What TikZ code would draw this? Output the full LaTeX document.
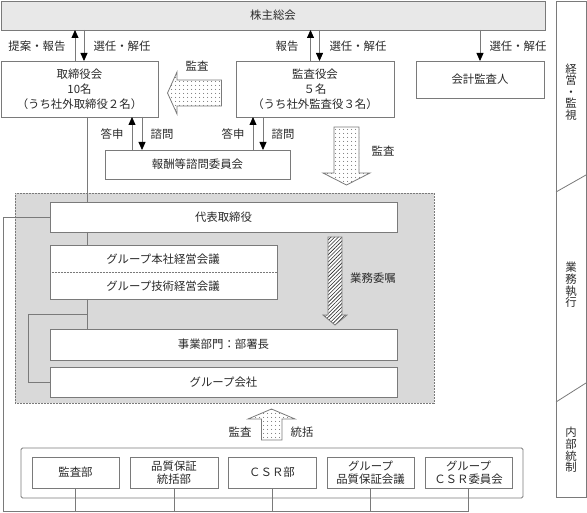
\documentclass[tikz,border=0pt]{standalone}
\usepackage{fontspec}
\setmainfont{Noto Sans CJK JP}
\usetikzlibrary{arrows.meta,patterns.meta}
\definecolor{lg}{HTML}{7A7A7A}
\definecolor{tc}{HTML}{2A2A2A}
\definecolor{shfill}{HTML}{E8E8E8}
\definecolor{areafill}{HTML}{D9D9D9}
\newcommand\fsz{\fontsize{11.4pt}{15pt}\selectfont}
\newcommand\fszb{\fontsize{11.4pt}{12.5pt}\selectfont}
\newcommand\fszv{\fontsize{11.4pt}{11.6pt}\selectfont}
\begin{document}
\begin{tikzpicture}[x=1pt,y=-1pt,
  box/.style={draw=lg, line width=0.8pt, fill=white, inner sep=0pt, outer sep=0pt,
    anchor=north west, align=center, text=tc, font=\fsz},
  lbl/.style={text=tc, font=\fsz, inner sep=0pt},
  conn/.style={draw=lg, line width=0.8pt},
  arr/.style={conn, -{Triangle[width=7pt,length=8pt,color=black]}},
  dotsarrow/.style={draw=lg, line width=0.8pt, preaction={fill=white},
    pattern={Dots[distance=4pt,radius=0.5pt]}, pattern color=tc},
  hatcharrow/.style={draw=lg, line width=0.8pt, preaction={fill=white},
    pattern={Lines[angle=45,distance=2.6pt,line width=0.6pt]}, pattern color=tc},
]
\useasboundingbox (0,0) rectangle (587,513);

% shareholders
\node[box, fill=shfill, minimum width=544pt, minimum height=29pt] (sh) at (1,1) {株主総会};

% top row boxes
\node[box, minimum width=157pt, minimum height=56pt] (bod) at (1,61)
  {取締役会\\10名\\（うち社外取締役２名）};
\node[box, minimum width=158pt, minimum height=56pt] (kan) at (236,61)
  {監査役会\\５名\\（うち社外監査役３名）};
\node[box, minimum width=128pt, minimum height=37pt] (acc) at (416,61) {会計監査人};
\node[box, minimum width=185pt, minimum height=29pt] (comp) at (105,150) {報酬等諮問委員会};

% arrows from shareholders
\draw[arr] ([xshift=-4.5pt]bod.north) -- ([xshift=-4.5pt]bod.north |- sh.south);
\draw[arr] ([xshift=4.5pt]bod.north |- sh.south) -- ([xshift=4.5pt]bod.north);
\draw[arr] ([xshift=-4.5pt]kan.north) -- ([xshift=-4.5pt]kan.north |- sh.south);
\draw[arr] ([xshift=4.5pt]kan.north |- sh.south) -- ([xshift=4.5pt]kan.north);
\draw[arr] (acc.north |- sh.south) -- (acc.north);

\node[lbl] (l1) at (37,46) {提案・報告};
\node[lbl] (l2) at (122,46) {選任・解任};
\node[lbl] (l3) at (287,46) {報告};
\node[lbl] (l4) at (358,46) {選任・解任};
\node[lbl] (l5) at (518,46) {選任・解任};

% arrows to compensation committee
\draw[arr] (132,0 |- comp.north) -- (132,0 |- bod.south);
\draw[arr] (142,0 |- bod.south) -- (142,0 |- comp.north);
\draw[arr] (253,0 |- comp.north) -- (253,0 |- kan.south);
\draw[arr] (263,0 |- kan.south) -- (263,0 |- comp.north);
\node[lbl] (l6) at (112,134) {答申};
\node[lbl] (l7) at (162,134) {諮問};
\node[lbl] (l8) at (233,134) {答申};
\node[lbl] (l9) at (283,134) {諮問};

% audit arrow (left)
\draw[dotsarrow] (221.5,80) -- (221.5,106) -- (177,106) -- (177,114) -- (167.5,93)
  -- (177,72) -- (177,80) -- cycle;
\node[lbl] (l10) at (197,66) {監査};

% audit arrow (down)
\draw[dotsarrow] (334,127) -- (359,127) -- (359,173) -- (370,173) -- (346.5,185)
  -- (323,173) -- (334,173) -- cycle;
\node[lbl] (l11) at (383,151) {監査};

% execution area
\node[draw=lg, line width=0.6pt, dash pattern=on 0.6pt off 0.9pt, fill=areafill,
  inner sep=0pt, outer sep=0pt, anchor=north west, minimum width=419pt,
  minimum height=210pt] (area) at (15,193) {};

\node[box, minimum width=347pt, minimum height=30pt] (rep) at (50,202) {代表取締役};
\node[box, minimum width=227pt, minimum height=54pt] (grp) at (50,245) {};
\node[lbl] (g1) at (163,259) {グループ本社経営会議};
\node[lbl] (g2) at (163,286) {グループ技術経営会議};
\draw[lg, line width=0.6pt, dash pattern=on 0.6pt off 0.9pt] (grp.west) -- (grp.east);
\node[box, minimum width=347pt, minimum height=31pt] (biz) at (50,329) {事業部門：部署長};
\node[box, minimum width=347pt, minimum height=30pt] (gco) at (50,367) {グループ会社};

\draw[conn] (87,0 |- bod.south) -- (87,0 |- rep.north);
\draw[conn] (87,0 |- rep.south) -- (87,0 |- grp.north);
\draw[conn] (87,0 |- grp.south) -- (87,0 |- biz.north);
\draw[conn] (87,314) -- (28,314) |- (gco.west);

% delegation arrow
\draw[hatcharrow] (328,237) -- (342,237) -- (342,315) -- (347,315) -- (335,325)
  -- (323,315) -- (328,315) -- cycle;
\node[lbl] (l12) at (373,278) {業務委嘱};

% internal control
\draw[dotsarrow] (261.5,440) -- (261.5,419) -- (248,419) -- (271.5,409) -- (295,419)
  -- (282,419) -- (282,440) -- cycle;
\node[lbl] (l13) at (240,432) {監査};
\node[lbl] (l14) at (302,432) {統括};

\node[draw=lg, line width=0.8pt, rounded corners=1.5pt, inner sep=0pt, outer sep=0pt,
  anchor=north west, minimum width=502pt, minimum height=50pt] (ctr) at (21,448) {};
\node[box, minimum width=87pt, minimum height=31pt] (b1) at (32,457) {監査部};
\node[box, minimum width=88pt, minimum height=31pt, font=\fszb] (b2) at (130,457) {品質保証\\統括部};
\node[box, minimum width=88pt, minimum height=31pt] (b3) at (228,457) {ＣＳＲ部};
\node[box, minimum width=87pt, minimum height=31pt, font=\fszb] (b4) at (327,457) {グループ\\品質保証会議};
\node[box, minimum width=87pt, minimum height=31pt, font=\fszb] (b5) at (425,457) {グループ\\ＣＳＲ委員会};

\foreach \b in {b1,b2,b3,b4,b5} {
  \draw[conn] (\b.south) -- (\b.south |- 0,511);
}
\draw[conn] (rep.west) -- (3,0 |- rep.west) |- (b5.south |- 0,511);

% right strip
\draw[conn] (556,1) rectangle (586,497);
\draw[conn] (556,192) -- (586,175);
\draw[conn] (556,402) -- (586,383);
\node[lbl, font=\fszv, align=center] (s1) at (571,92) {経\\営\\・\\監\\視};
\node[lbl, font=\fszv, align=center] (s2) at (571,285) {業\\務\\執\\行};
\node[lbl, font=\fszv, align=center] (s3) at (571,450) {内\\部\\統\\制};
\end{tikzpicture}
\end{document}
